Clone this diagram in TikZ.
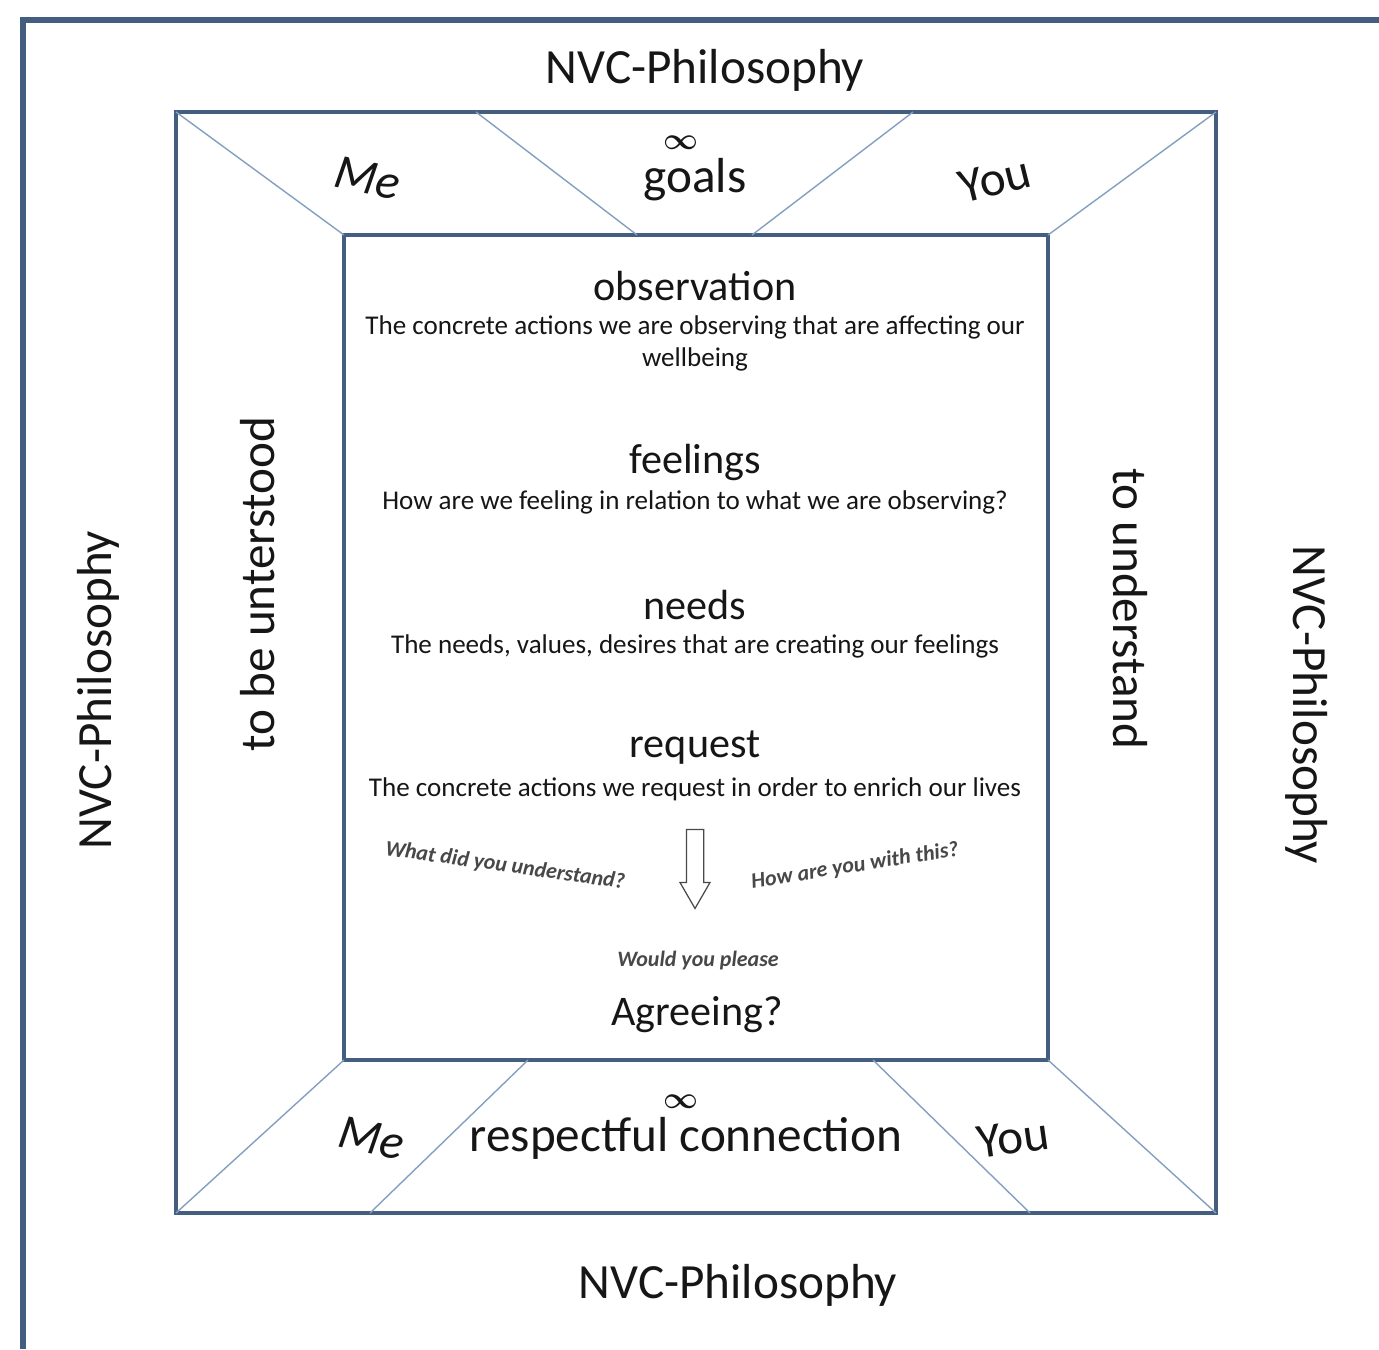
\documentclass[tikz,border=0pt]{standalone}
\usepackage{amsmath}
\usepackage{fontspec}
\setmainfont{Carlito}
\usepackage{xcolor}
\usetikzlibrary{shapes,arrows,positioning}
\definecolor{nvcframe}{RGB}{68,94,128}
\definecolor{nvcdiag}{RGB}{132,160,192}
\definecolor{nvctext}{RGB}{22,22,22}
\definecolor{nvcask}{RGB}{72,72,72}

\begin{document}
\begin{tikzpicture}[
    frameline/.style={draw=nvcframe, line width=2.8pt, outer sep=0pt, line join=miter},
    diagline/.style={draw=nvcdiag, line width=0.8pt},
    bigword/.style={font=\fontsize{28}{34}\selectfont, text=nvctext, inner sep=1pt},
    heading/.style={font=\fontsize{24}{29}\selectfont, text=nvctext, inner sep=1pt},
    desc/.style={font=\fontsize{15.4}{18.2}\selectfont, text=nvctext, align=center, inner sep=1pt},
    ask/.style={font=\fontsize{12.5}{15}\selectfont\itshape\bfseries, text=nvcask, inner sep=1pt},
    infsign/.style={font=\fontsize{17}{17}\selectfont, text=nvctext, inner sep=0pt}
]
    \useasboundingbox (0,0) rectangle (27.58,26.98);
    \fill[white] (0,0) rectangle (27.58,26.98);

    % Outer frame, cut by the page on the right and at the bottom
    \draw[nvcframe, line width=3.2pt, line join=miter] (0.46,0) -- (0.46,26.58) -- (27.58,26.58);

    % Middle and inner frames
    \node[frameline, rectangle, minimum width=20.8cm, minimum height=22.02cm] (frame) at (13.92,13.73) {};
    \node[frameline, rectangle, minimum width=14.08cm, minimum height=16.5cm] (core) at (13.92,14.03) {};

    % Points on the frame edges
    \coordinate (topa) at (9.52,24.74);
    \coordinate (topb) at (12.74,22.28);
    \coordinate (topc) at (18.26,24.74);
    \coordinate (topd) at (15.04,22.28);
    \coordinate (bota) at (10.56,5.78);
    \coordinate (botb) at (7.40,2.72);
    \coordinate (botc) at (17.46,5.78);
    \coordinate (botd) at (20.60,2.72);

    % Diagonals
    \draw[diagline] (frame.north west) -- (core.north west);
    \draw[diagline] (frame.north east) -- (core.north east);
    \draw[diagline] (frame.south west) -- (core.south west);
    \draw[diagline] (frame.south east) -- (core.south east);
    \draw[diagline] (topa) -- (topb);
    \draw[diagline] (topc) -- (topd);
    \draw[diagline] (bota) -- (botb);
    \draw[diagline] (botc) -- (botd);

    % Philosophy all around
    \node[bigword] (philtop) at (14.10,25.58) {NVC-Philosophy};
    \node[bigword] (philbot) at (14.76,1.28) {NVC-Philosophy};
    \node[bigword, rotate=90] (phileft) at (1.96,13.18) {NVC-Philosophy};
    \node[bigword, rotate=-90] (philright) at (26.14,12.88) {NVC-Philosophy};

    % Sides
    \node[bigword, rotate=90] (understood) at (5.16,15.30) {to be unterstood};
    \node[bigword, rotate=-90] (understand) at (22.60,14.80) {to understand};

    % Top band
    \node[bigword, font=\fontsize{28}{34}\selectfont\itshape, rotate=-12] (metop) at (7.36,23.42) {Me};
    \node[bigword] (goals) at (13.90,23.38) {goals};
    \node[infsign] (goalsinf) at (13.62,24.12) {$\boldsymbol{\infty}$};
    \node[bigword, rotate=14] (youtop) at (19.90,23.38) {You};

    % Bottom band
    \node[bigword, font=\fontsize{28}{34}\selectfont\itshape, rotate=-12] (mebot) at (7.44,4.22) {Me};
    \node[bigword] (respect) at (13.72,4.22) {respectful connection};
    \node[infsign] (respectinf) at (13.62,4.94) {$\boldsymbol{\infty}$};
    \node[bigword, rotate=8] (youbot) at (20.26,4.22) {You};

    % The four steps
    \node[heading] (obs) at (13.90,21.26) {observation};
    \node[desc] (obstext) at (13.90,20.12) {The concrete actions we are observing that are affecting our\\wellbeing};
    \node[heading] (feel) at (13.90,17.74) {feelings};
    \node[desc] (feeltext) at (13.90,16.93) {How are we feeling in relation to what we are observing?};
    \node[heading] (need) at (13.90,14.88) {needs};
    \node[desc] (needtext) at (13.90,14.06) {The needs, values, desires that are creating our feelings};
    \node[heading] (req) at (13.90,12.02) {request};
    \node[desc] (reqtext) at (13.90,11.19) {The concrete actions we request in order to enrich our lives};

    % Hollow arrow and questions
    \node[single arrow, draw=nvcask, fill=white, line width=0.7pt, shape border rotate=270,
          minimum height=1.58cm, minimum width=0.6cm, inner sep=0.15cm,
          single arrow head extend=0.12cm, single arrow tip angle=60] (flow) at (13.90,9.75) {};
    \node[ask, rotate=-8] (askleft) at (10.10,9.66) {What did you understand?};
    \node[ask, rotate=9] (askright) at (17.10,9.66) {How are you with this?};
    \node[ask] (please) at (13.96,7.76) {Would you please};
    \node[heading] (agree) at (13.94,6.68) {Agreeing?};
\end{tikzpicture}
\end{document}
